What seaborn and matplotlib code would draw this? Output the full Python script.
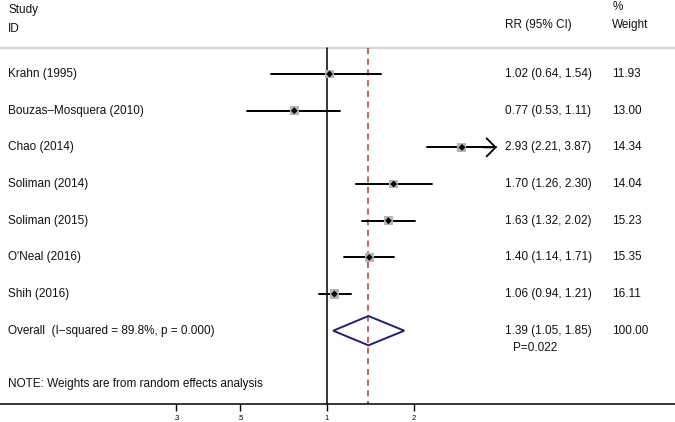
import seaborn as sns
import matplotlib.pyplot as plt
import numpy as np
import pandas as pd

# Study data
studies = ["Krahn (1995)", "Bouzas\u2013Mosquera (2010)", "Chao (2014)", "Soliman (2014)",
           "Soliman (2015)", "O'Neal (2016)", "Shih (2016)"]
rr = [1.02, 0.77, 2.93, 1.70, 1.63, 1.40, 1.06]
lower = [0.64, 0.53, 2.21, 1.26, 1.32, 1.14, 0.94]
upper = [1.54, 1.11, 3.87, 2.30, 2.02, 1.71, 1.21]
weights = [11.93, 13.00, 14.34, 14.04, 15.23, 15.35, 16.11]

overall_rr, overall_lo, overall_hi = 1.39, 1.05, 1.85
overall_label = "Overall  (I\u2212squared = 89.8%, p = 0.000)"
overall_p = "P=0.022"
tick_vals = [0.3, 0.5, 1, 2]
tick_labels = [".3", ".5", "1", "2"]

df = pd.DataFrame({"study": studies, "rr": rr, "lo": lower, "hi": upper, "w": weights})
df["row"] = np.arange(1, len(df) + 1)

sns.set_style("white")
plt.rcParams['font.family'] = ['Liberation Sans', 'DejaVu Sans']

fig = plt.figure(figsize=(6.75, 4.22), dpi=100)
ax = fig.add_axes([0, 18 / 422, 1, 1 - 18 / 422])
ax.set_xscale("log")
ax.set_xlim(0.0738, 16.0)
ax.set_ylim(10.0, -1.02)

fs = 8.5
txt = "#111111"
tr = ax.get_yaxis_transform()

# header
ax.text(0.012, -0.74, "Study", fontsize=fs, color=txt, va="center", transform=tr)
ax.text(0.012, -0.22, "ID", fontsize=fs, color=txt, va="center", transform=tr)
ax.text(0.748, -0.35, "RR (95% CI)", fontsize=fs, color=txt, va="center", transform=tr)
ax.text(0.907, -0.83, "%", fontsize=fs, color=txt, va="center", transform=tr)
ax.text(0.907, -0.35, "Weight", fontsize=fs, color=txt, va="center", transform=tr)
ax.axhline(0.29, color="#cccccc", lw=1.2)

# reference lines
ax.plot([1, 1], [0.29, 10], color="black", lw=1.1)
ax.plot([overall_rr, overall_rr], [0.29, 10], color="#b03a3a", lw=1.1, ls=(0, (4, 3)))

# confidence intervals
for _, r in df.iterrows():
    if r["hi"] > 3.8:
        ax.plot([r["lo"], r["hi"] * 0.995], [r["row"], r["row"]], color="black", lw=1.4)
        ax.annotate("", xy=(r["hi"], r["row"]), xytext=(r["hi"] * 0.9, r["row"]),
                    arrowprops=dict(arrowstyle="->, head_length=0.5, head_width=0.5",
                                    color="black", lw=1.3, mutation_scale=13,
                                    shrinkA=0, shrinkB=0))
    else:
        ax.plot([r["lo"], r["hi"]], [r["row"], r["row"]], color="black", lw=1.4)

# weight boxes and point estimates
sns.scatterplot(data=df, x="rr", y="row", size="w", sizes=(36, 46), marker="s",
                color="#b5b5b5", edgecolor="none", legend=False, ax=ax, zorder=3)
sns.scatterplot(data=df, x="rr", y="row", marker="D", s=12, color="black",
                edgecolor="none", legend=False, ax=ax, zorder=4)

# overall diamond
dy = 0.4
ax.fill([overall_lo, overall_rr, overall_hi, overall_rr, overall_lo],
        [8, 8 - dy, 8, 8 + dy, 8], fill=False, edgecolor="#1f1f7a", lw=1.4, zorder=4)

# row texts
for _, r in df.iterrows():
    ax.text(0.012, r["row"], r["study"], fontsize=fs, color=txt, va="center", transform=tr)
    ax.text(0.748, r["row"], f"{r['rr']:.2f} ({r['lo']:.2f}, {r['hi']:.2f})", fontsize=fs,
            color=txt, va="center", transform=tr)
    ax.text(0.907, r["row"], f"{r['w']:.2f}", fontsize=fs, color=txt, va="center", transform=tr)

ax.text(0.012, 8, overall_label, fontsize=fs, color=txt, va="center", transform=tr)
ax.text(0.748, 8, f"{overall_rr:.2f} ({overall_lo:.2f}, {overall_hi:.2f})", fontsize=fs,
        color=txt, va="center", transform=tr)
ax.text(0.760, 8.47, overall_p, fontsize=fs, color=txt, va="center", transform=tr)
ax.text(0.907, 8, "100.00", fontsize=fs, color=txt, va="center", transform=tr)
ax.text(0.012, 9.45, "NOTE: Weights are from random effects analysis", fontsize=fs, color=txt,
        va="center", transform=tr)

# axes styling
for s in ["top", "right", "left"]:
    ax.spines[s].set_visible(False)
ax.spines["bottom"].set_color("black")
ax.spines["bottom"].set_linewidth(1.1)
ax.set_xticks(tick_vals)
ax.set_xticklabels(tick_labels)
ax.minorticks_off()
ax.set_yticks([])
ax.set_xlabel("")
ax.set_ylabel("")
ax.tick_params(axis="x", direction="out", length=5, width=1, bottom=True, labelsize=5.5,
               pad=3, colors="black")

fig.savefig("out.png", dpi=100)
